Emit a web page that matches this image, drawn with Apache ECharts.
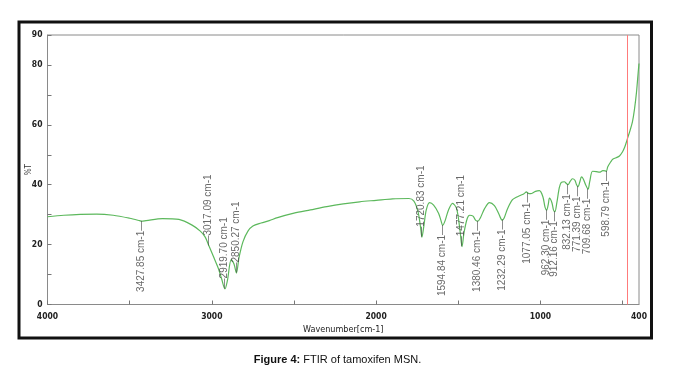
<!DOCTYPE html>
<html>
<head>
<meta charset="utf-8">
<script src="https://cdn.jsdelivr.net/npm/echarts@6/dist/echarts.min.js"></script>
<style>
html,body{margin:0;padding:0;background:#fff;}
#c{width:675px;height:369px;}
</style>
</head>
<body>
<div id="c"></div>
<script>
// Spectrum (wavenumber cm-1, %T)
var wavenumbers = [4000,3900,3800,3700,3600,3500,3440,3428,3400,3300,3200,3120,3070,3040,3017,2990,2960,2940,2920,2905,2882,2865,2850,2835,2810,2780,2750,2700,2650,2600,2500,2400,2300,2200,2100,2000,1900,1800,1770,1745,1730,1721,1710,1695,1675,1650,1620,1605,1595,1580,1560,1535,1510,1490,1477,1465,1445,1430,1410,1395,1381,1365,1340,1310,1280,1255,1240,1232,1220,1200,1170,1147,1120,1100,1085,1077,1060,1030,1006,985,972,962,952,945,930,920,912,900,885,873,855,840,832,820,805,790,780,771,760,750,740,725,710,700,683,660,640,620,605,599,590,570,560,540,519,500,488,478,468,455,440,428,415,405,400];
var transmittance = [29.3,29.8,30.1,30.2,29.8,28.8,28.0,27.8,28.0,28.7,28.4,26.5,24.5,22.5,19.5,16,12,8.5,5.2,8,15,13.5,10.5,15.5,21,24.5,26.2,27.2,28.0,29.0,30.5,31.6,32.7,33.6,34.3,34.8,35.3,35.4,34.5,31,26,22.5,26,31.5,34,33.2,30.5,28,26.4,28,31.5,33.8,32,25,19.3,24,28.8,29.8,29.5,28.2,27.8,29,32,34,33,30.5,28.6,28.2,29,32,35,35.8,36.5,37,37.6,37.2,37.0,37.8,38,36,32.5,31.5,33.5,35.5,34,31.5,31,34,39,40.8,41,40.3,40,41,42,41.5,40,39.3,41,42.6,42,40,38.5,41,44.5,44.4,44.2,44.7,44.6,44.4,46,47.8,48.5,49,49.6,51,52.4,54,55.8,58,61,65,71,77.5,80.5];

// Peak annotations
var peakWn = [3427.85,3017.09,2919.70,2850.27,1720.83,1594.84,1477.21,1380.46,1232.29,1077.05,962.30,912.16,832.13,771.39,709.68,598.79];
var peakT  = [27.8,19.5,5.2,10.5,22.5,26.4,19.3,27.8,28.2,37.2,31.5,31,40,39.3,38.5,44.4];
var peakAbove = [false,true,true,true,true,false,true,false,false,false,false,false,false,false,false,false];

// Axis ticks / labels
var xTickValues = [500,1000,1500,2000,2500,3000,3500,4000];
var xLabelValues = [400,1000,2000,3000,4000];
var yTickValues = [0,10,20,30,40,50,60,70,80,90];
var yLabelValues = [0,20,40,60,80,90];
var referenceLineWn = 470;

var lineData = wavenumbers.map(function(w,i){return [w, transmittance[i]];});
var peakData = peakWn.map(function(w,i){
  var txt = peakWn[i].toFixed(2) + ' cm-1';
  return {
    value:[w, peakT[i]],
    label:{
      formatter: peakAbove[i] ? ('\u2014' + txt) : (txt + '\u2014'),
      align: peakAbove[i] ? 'left' : 'right'
    }
  };
});

var axisFont = {fontFamily:'"Liberation Sans Narrow","DejaVu Sans Condensed",sans-serif', fontWeight:'bold', fontSize:8.5, color:'#222'};

var chart = echarts.init(document.getElementById('c'), null, {renderer:'canvas'});
chart.setOption({
  animation:false,
  backgroundColor:'#fff',
  title:{
    text:'{b|Figure 4:} FTIR of tamoxifen MSN.',
    left:'center', top:349,
    textStyle:{fontSize:11, fontWeight:'normal', color:'#111', fontFamily:'Arial,"Liberation Sans",sans-serif',
      rich:{b:{fontSize:11, fontWeight:'bold', color:'#111', fontFamily:'Arial,"Liberation Sans",sans-serif'}}}
  },
  graphic:[{
    type:'rect', shape:{x:19, y:22, width:632.5, height:316}, silent:true,
    style:{fill:'none', stroke:'#111', lineWidth:3}
  }],
  grid:{left:47.5, right:36, top:35, bottom:64.5, show:true, borderColor:'#8a8a8a', borderWidth:1},
  xAxis:{
    type:'value', inverse:true, min:400, max:4000,
    name:'Wavenumber[cm-1]', nameLocation:'middle', nameGap:21, nameMoveOverlap:false,
    nameTextStyle:{fontFamily:'"Liberation Sans Narrow","DejaVu Sans Condensed",sans-serif', fontSize:9, color:'#222'},
    axisLine:{lineStyle:{color:'#8a8a8a'}},
    axisTick:{inside:true, length:4, customValues:xTickValues, lineStyle:{color:'#777'}},
    axisLabel:Object.assign({customValues:xLabelValues, margin:8, formatter:function(v){return String(v);}}, axisFont),
    splitLine:{show:false}
  },
  yAxis:{
    type:'value', min:0, max:90,
    name:'%T', nameLocation:'middle', nameGap:15, nameMoveOverlap:false,
    nameTextStyle:{fontFamily:'"Liberation Sans Narrow","DejaVu Sans Condensed",sans-serif', fontSize:8, color:'#333'},
    axisLine:{show:true, lineStyle:{color:'#8a8a8a'}},
    axisTick:{show:true, inside:true, length:4, customValues:yTickValues, lineStyle:{color:'#777'}},
    axisLabel:Object.assign({customValues:yLabelValues, margin:5, formatter:function(v){return String(v);}}, axisFont),
    splitLine:{show:false}
  },
  series:[{
    type:'line', data:lineData, showSymbol:false, smooth:0.3,
    lineStyle:{color:'#5cb85c', width:1.2},
    markLine:{
      silent:true, symbol:'none', label:{show:false},
      lineStyle:{color:'#ff7b7b', width:1, type:'solid'},
      data:[{xAxis:referenceLineWn}]
    }
  },{
    type:'scatter', data:peakData, symbolSize:1,
    itemStyle:{color:'rgba(0,0,0,0)'},
    label:{
      show:true, position:[0,0], rotate:90, verticalAlign:'middle',
      fontSize:10, color:'#444', fontFamily:'Arial,"Liberation Sans",sans-serif'
    },
    z:5
  }]
});
</script>
</body>
</html>
